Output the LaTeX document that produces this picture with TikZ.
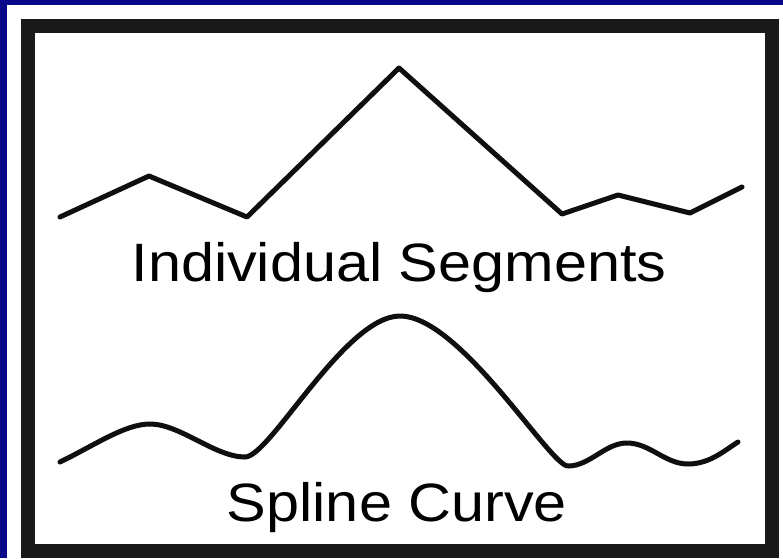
\documentclass[tikz,border=0pt]{standalone}
\usepackage{fontspec}
\setmainfont{Liberation Sans}
\definecolor{navy}{RGB}{8,8,136}
\definecolor{frameblack}{RGB}{25,25,25}
\definecolor{inkblack}{RGB}{15,15,15}
\begin{document}
\begin{tikzpicture}[x=1pt,y=-1pt,
  curve/.style={line width=5pt, inkblack, line join=round, line cap=round},
  lbl/.style={anchor=base, inner sep=0pt, font=\fontsize{54}{60}\selectfont}]
\useasboundingbox (0,0) rectangle (783,558);
\fill[white] (0,0) rectangle (783,558);
\fill[navy] (0,0) rectangle (7,558);
\fill[navy] (0,0) rectangle (783,5);
\draw[line width=14pt, frameblack] (27.5,26) rectangle (771.5,550.5);
% individual segments
\draw[curve] (60,217) -- (149,176) -- (247,217) -- (399,68) -- (562,214) -- (618,195) -- (690,213) -- (742,187);
\node[lbl] (seg) at (399,281) {\scalebox{1.1}[1]{Individual Segments}};
% spline curve
\draw[curve] (60,462)
  .. controls (95,445) and (125,424) .. (150,424)
  .. controls (180,424) and (215,457) .. (245,457)
  .. controls (270,457) and (345,316) .. (400,316)
  .. controls (460,316) and (550,466) .. (568,466)
  .. controls (590,466) and (605,443) .. (627,443)
  .. controls (650,443) and (665,464) .. (688,464)
  .. controls (710,464) and (725,450) .. (738,442);
\node[lbl] (spl) at (397,521) {\scalebox{1.1}[1]{Spline Curve}};
\end{tikzpicture}
\end{document}
